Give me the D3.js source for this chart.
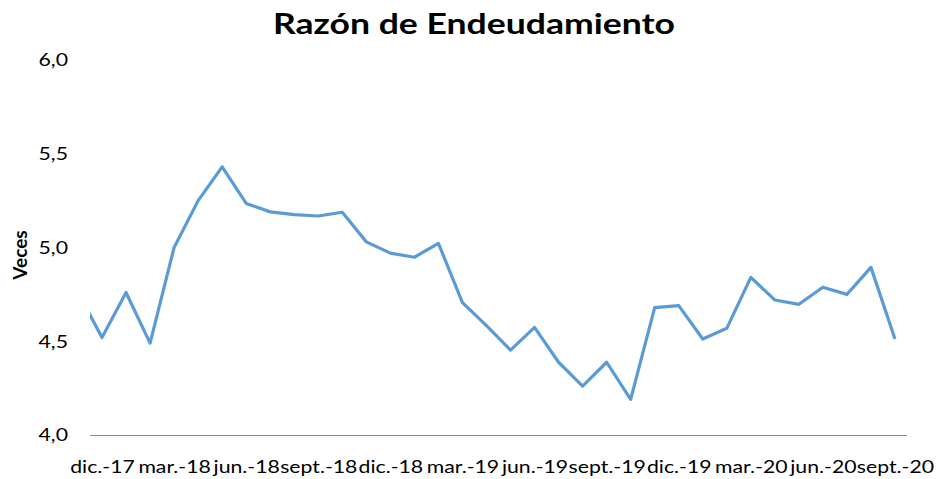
<!DOCTYPE html>
<html>
<head>
<meta charset="utf-8">
<script src="https://cdn.jsdelivr.net/npm/d3@7"></script>
<style>
  body { margin: 0; background: #fff; }
  text { font-family: Lato, "Open Sans", sans-serif; fill: #000; }
</style>
</head>
<body>
<script>
// months, starting one before the first visible category (clipped at the edge)
var months = ["nov.-17", "dic.-17", "ene.-18", "feb.-18", "mar.-18", "abr.-18", "may.-18",
  "jun.-18", "jul.-18", "ago.-18", "sept.-18", "oct.-18", "nov.-18", "dic.-18",
  "ene.-19", "feb.-19", "mar.-19", "abr.-19", "may.-19", "jun.-19", "jul.-19",
  "ago.-19", "sept.-19", "oct.-19", "nov.-19", "dic.-19", "ene.-20", "feb.-20",
  "mar.-20", "abr.-20", "may.-20", "jun.-20", "jul.-20", "ago.-20", "sept.-20"];

var values = [4.76, 4.52, 4.76, 4.49, 5.00, 5.25, 5.43, 5.235, 5.19, 5.175, 5.168,
  5.188, 5.03, 4.97, 4.948, 5.022, 4.706, 4.583, 4.453, 4.574, 4.388, 4.261,
  4.388, 4.19, 4.679, 4.69, 4.512, 4.569, 4.841, 4.72, 4.697, 4.788, 4.75,
  4.894, 4.512];

var yTicks = [4.0, 4.5, 5.0, 5.5, 6.0];

var width = 940, height = 479;
var margin = {top: 60, right: 33, bottom: 44, left: 90};
var stretch = 1.18; // the original text is a bit wider than these fonts

var svg = d3.select("body").append("svg")
    .attr("width", width)
    .attr("height", height);

// visible categories (first month is only there for the clipped segment)
var shown = months.slice(1);

var x = d3.scalePoint()
    .domain(shown)
    .range([margin.left, width - margin.right])
    .padding(0.5);

var y = d3.scaleLinear()
    .domain([4, 6])
    .range([height - margin.bottom, margin.top]);

function xPos(d, i) {
  if (i === 0) return x(shown[0]) - x.step();
  return x(months[i]);
}

svg.append("defs").append("clipPath")
    .attr("id", "plot")
  .append("rect")
    .attr("x", margin.left)
    .attr("y", 0)
    .attr("width", width - margin.right - margin.left)
    .attr("height", height);

// title
svg.append("text")
    .attr("x", 474)
    .attr("y", 34)
    .attr("text-anchor", "middle")
    .attr("textLength", 402)
    .attr("lengthAdjust", "spacingAndGlyphs")
    .style("font-size", "29px")
    .style("font-weight", "bold")
    .text("Razón de Endeudamiento");

// y axis title
svg.append("text")
    .attr("transform", "translate(27,255) rotate(-90)")
    .attr("text-anchor", "middle")
    .style("font-size", "19px")
    .style("font-weight", "bold")
    .text("Veces");

// y axis labels
var yAxis = svg.append("g")
    .attr("transform", "translate(" + margin.left + ",0)")
    .call(d3.axisLeft(y)
      .tickValues(yTicks)
      .tickSize(0)
      .tickFormat(function(d) { return d3.format(".1f")(d).replace(".", ","); }));
yAxis.select(".domain").remove();
yAxis.selectAll("text")
    .attr("x", 0)
    .attr("transform", "translate(-22,0) scale(" + stretch + ",1)")
    .style("font-size", "18px")
    .style("fill", "#000");

// x axis
var labelled = shown.filter(function(d, i) { return i % 3 === 0; });
var xAxis = svg.append("g")
    .attr("transform", "translate(0," + y(4) + ")")
    .call(d3.axisBottom(x)
      .tickValues(labelled)
      .tickSize(0)
      .tickPadding(25));
xAxis.select(".domain")
    .attr("d", "M" + margin.left + ",0.5H" + (width - margin.right))
    .attr("stroke", "#8c8c8c")
    .attr("stroke-width", 1);
xAxis.selectAll("text")
    .attr("transform", "scale(" + stretch + ",1)")
    .style("font-size", "18px")
    .style("fill", "#000");

// the line
var line = d3.line()
    .x(xPos)
    .y(function(d) { return y(d); });

svg.append("path")
    .datum(values)
    .attr("clip-path", "url(#plot)")
    .attr("fill", "none")
    .attr("stroke", "#5B9BD5")
    .attr("stroke-width", 3.2)
    .attr("stroke-linejoin", "round")
    .attr("d", line);
</script>
</body>
</html>
